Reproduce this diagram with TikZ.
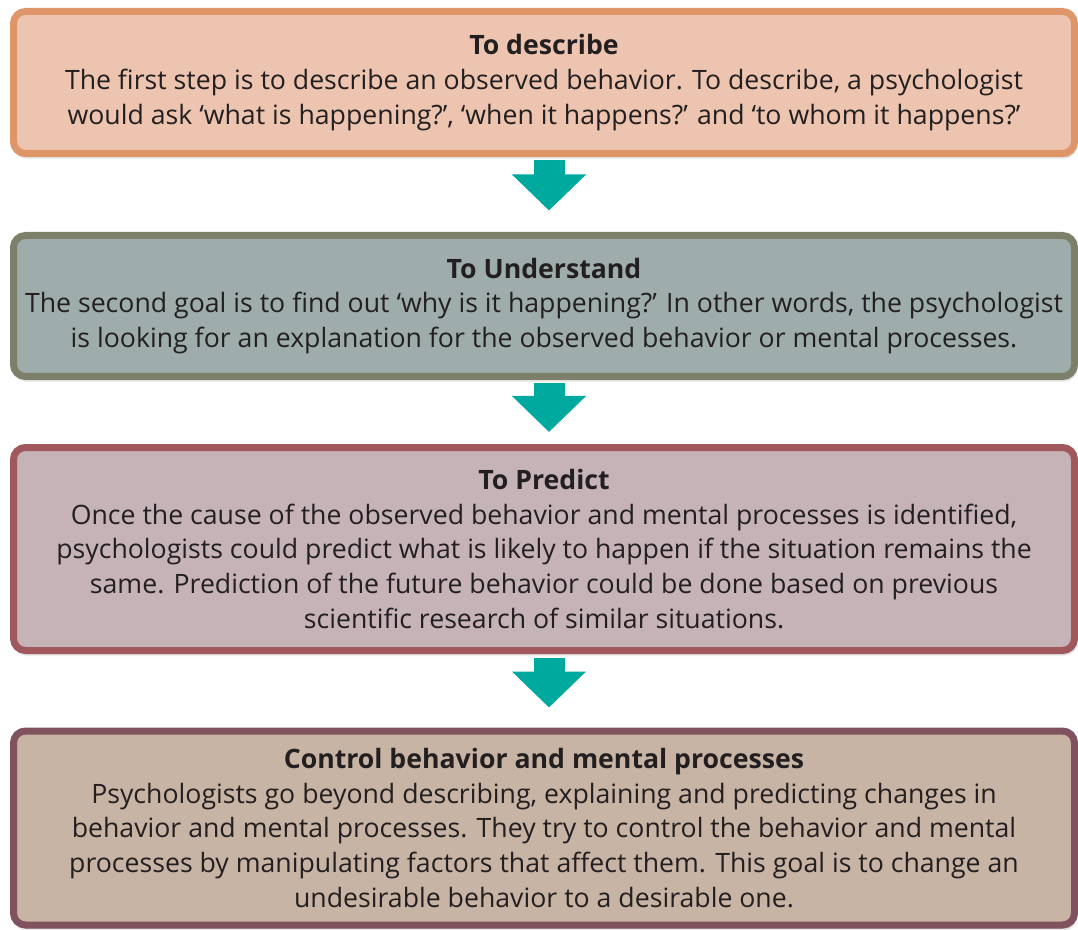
\documentclass[tikz,border=0pt]{standalone}
\usepackage{fontspec}
\setmainfont{Open Sans}
\usetikzlibrary{arrows.meta, shadows.blur, calc}
\definecolor{describefill}{HTML}{EDC4AF}
\definecolor{describeline}{HTML}{DE9668}
\definecolor{understandfill}{HTML}{9EADAB}
\definecolor{understandline}{HTML}{7C7F6A}
\definecolor{predictfill}{HTML}{C5B3B8}
\definecolor{predictline}{HTML}{A0585C}
\definecolor{controlfill}{HTML}{C8B4A4}
\definecolor{controlline}{HTML}{7F525D}
\definecolor{arrowteal}{HTML}{00A99D}
\definecolor{textdark}{HTML}{231F20}
\tikzstyle{goalbox} = [draw, line width=5.25pt, rounded corners=9pt, align=center, minimum width=795.75pt, text=textdark, blur shadow={shadow xshift=1pt, shadow yshift=-2.5pt, shadow blur steps=6, shadow opacity=35}]
\tikzstyle{goalarrow} = [line width=23.25pt, arrowteal, -{Triangle[width=54pt,length=27pt]}]

\begin{document}
\begin{tikzpicture}[x=0.75pt, y=-0.75pt, every node/.style={font=\fontsize{20pt}{26pt}\selectfont}]
  \useasboundingbox (0,0) rectangle (1078,930);

  % Goal boxes
  \node[goalbox, fill=describefill, draw=describeline, minimum height=106.5pt] (describe) at (544,82.5)
    {\textbf{To describe}\\The first step is to describe an observed behavior. To describe, a psychologist\\would ask ‘what is happening?’, ‘when it happens?’ and ‘to whom it happens?’};
  \node[goalbox, fill=understandfill, draw=understandline, minimum height=105.75pt] (understand) at (544,306)
    {\textbf{To Understand}\\The second goal is to find out ‘why is it happening?’ In other words, the psychologist\\is looking for an explanation for the observed behavior or mental processes.};
  \node[goalbox, fill=predictfill, draw=predictline, minimum height=152.25pt] (predict) at (544,549)
    {\textbf{To Predict}\\Once the cause of the observed behavior and mental processes is identified,\\psychologists could predict what is likely to happen if the situation remains the\\same. Prediction of the future behavior could be done based on previous\\scientific research of similar situations.};
  \node[goalbox, fill=controlfill, draw=controlline, minimum height=145.5pt] (control) at (544,828)
    {\textbf{Control behavior and mental processes}\\Psychologists go beyond describing, explaining and predicting changes in\\behavior and mental processes. They try to control the behavior and mental\\processes by manipulating factors that affect them. This goal is to change an\\undesirable behavior to a desirable one.};

  % Arrows
  \draw[goalarrow] ($(describe.south)+(5,3.5)$) -- ($(understand.north)+(5,-21.5)$);
  \draw[goalarrow] ($(understand.south)+(5,3.5)$) -- ($(predict.north)+(5,-12)$);
  \draw[goalarrow] ($(predict.south)+(5,3.5)$) -- ($(control.north)+(5,-20)$);
\end{tikzpicture}
\end{document}
